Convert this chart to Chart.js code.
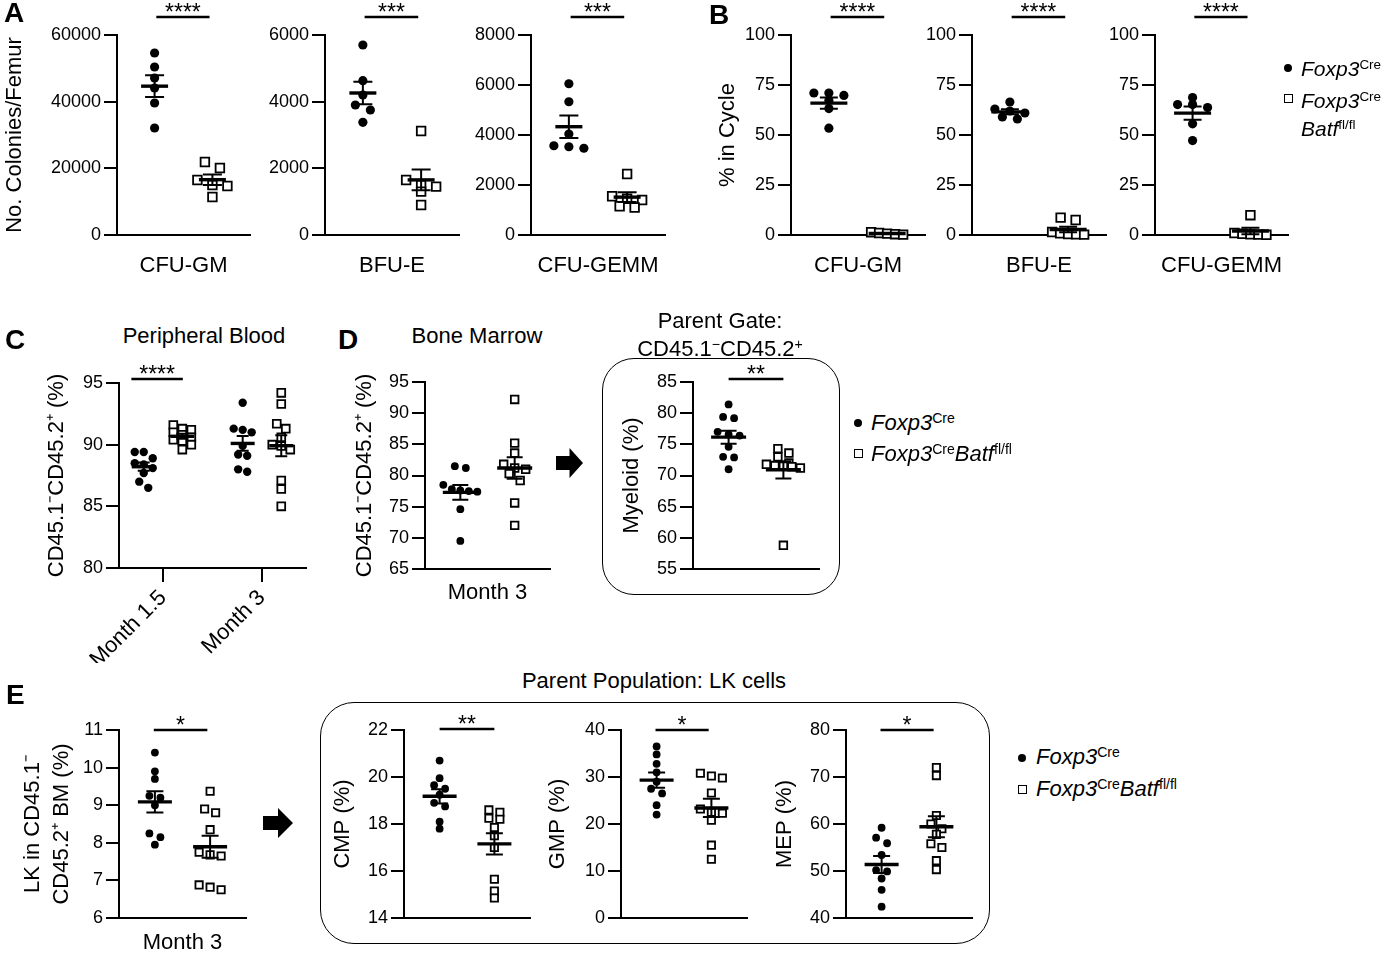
<!DOCTYPE html>
<html>
<head>
<meta charset="utf-8">
<script src="https://cdn.jsdelivr.net/npm/chart.js@4.4.0/dist/chart.umd.min.js"></script>
<style>
  body { margin: 0; background: #fff; }
  #fig { position: relative; width: 1388px; height: 956px; overflow: hidden; font-family: 'Liberation Sans', Arial, sans-serif; color: #000; }
  #fig canvas { position: absolute; }
  .lbl { position: absolute; white-space: nowrap; line-height: 1; z-index: 2; }
  .letter { position: absolute; font-weight: bold; font-size: 28px; line-height: 28px; z-index: 2; }
  sup { font-size: 0.64em; position: relative; top: -0.5em; vertical-align: baseline; line-height: 0; font-style: normal; }
  .box { position: absolute; border: 1.8px solid #000; box-sizing: border-box; z-index: 1; }
  .arrow { position: absolute; background: #000; z-index: 2;
    clip-path: polygon(0 27%, 50% 27%, 50% 0, 100% 50%, 50% 100%, 50% 73%, 0 73%); }
  .dot { position: absolute; width: 8px; height: 8px; margin: -4px 0 0 -4px; border-radius: 50%; background: #000; z-index: 2; }
  .sq { position: absolute; width: 9px; height: 9px; margin: -4.5px 0 0 -4.5px; border: 1.8px solid #000; box-sizing: border-box; background: #fff; z-index: 2; }
</style>
</head>
<body>
<div id="fig"></div>
<script>
// ---- categories / labels ----
var colonyTypes = ['CFU-GM', 'BFU-E', 'CFU-GEMM'];
var monthsPB = ['Month 1.5', 'Month 3'];
var sigA = ['****', '***', '***'];
var sigB = ['****', '****', '****'];

// ---- A: colonies per femur (Foxp3Cre = cre, Foxp3Cre Batf fl/fl = ko) ----
var colGM_cre = [54600, 50400, 47100, 44100, 39600, 32100];
var colGM_ko = [21900, 20100, 16500, 15000, 14700, 11400];
var colBE_cre = [5700, 4630, 4200, 3900, 3750, 3380];
var colBE_ko = [3120, 1650, 1500, 1450, 1300, 900];
var colGEMM_cre = [6050, 5330, 4040, 3570, 3530, 3470];
var colGEMM_ko = [2440, 1550, 1450, 1400, 1150, 1100];

// ---- B: % in cycle ----
var cycGM_cre = [71.0, 71.0, 69.8, 67.3, 63.2, 53.4];
var cycGM_ko = [1.4, 1.0, 0.7, 0.4, 0.2];
var cycBE_cre = [66.5, 63.0, 62.0, 61.0, 59.0, 58.0];
var cycBE_ko = [8.7, 7.5, 1.5, 0.8, 0.5, 0.3, 0.2];
var cycGEMM_cre = [68.7, 65.2, 65.2, 63.7, 55.6, 47.2];
var cycGEMM_ko = [9.9, 1.0, 0.6, 0.3, 0.2, 0.1];

// ---- C: peripheral blood chimerism ----
var pbM15_cre = [89.4, 89.4, 88.9, 88.5, 88.4, 88.1, 87.7, 87.0, 86.5];
var pbM15_ko = [91.6, 91.3, 91.2, 91.0, 90.8, 90.6, 90.4, 90.3, 90.0, 89.6];
var pbM3_cre = [93.4, 91.3, 91.2, 91.0, 89.9, 89.2, 89.1, 88.0, 87.8];
var pbM3_ko = [94.2, 93.3, 91.7, 91.3, 90.6, 90.0, 89.9, 89.6, 87.1, 86.4, 85.0];

// ---- D: bone marrow ----
var bmM3_cre = [81.5, 81.2, 78.5, 77.8, 77.6, 77.5, 77.4, 74.6, 69.5];
var bmM3_ko = [92.2, 85.2, 83.6, 81.8, 81.2, 81.0, 80.3, 79.2, 75.6, 72.0];
var myeloid_cre = [81.4, 79.4, 79.2, 77.0, 76.6, 76.4, 74.6, 73.0, 72.9, 71.0];
var myeloid_ko = [74.3, 73.6, 73.0, 72.0, 71.8, 71.6, 71.5, 71.4, 71.2, 58.8];

// ---- E: LK and progenitors ----
var lk_cre = [10.4, 9.9, 9.7, 9.25, 9.2, 9.0, 8.25, 8.15, 7.95];
var lk_ko = [9.37, 8.9, 8.8, 8.35, 7.75, 7.68, 7.65, 6.88, 6.82, 6.75];
var cmp_cre = [20.7, 19.95, 19.65, 19.5, 19.25, 18.9, 18.75, 18.1, 17.8];
var cmp_ko = [18.6, 18.5, 18.25, 18.2, 17.85, 17.5, 17.0, 15.65, 15.15, 14.85];
var gmp_cre = [36.5, 34.8, 32.8, 31.0, 29.0, 27.5, 26.5, 24.0, 22.0];
var gmp_ko = [30.8, 30.2, 29.8, 26.6, 23.2, 22.5, 22.3, 20.8, 15.5, 12.5];
var mep_cre = [59.2, 57.1, 55.9, 53.4, 50.2, 49.9, 48.4, 46.0, 42.4];
var mep_ko = [72.0, 70.3, 61.8, 60.0, 59.0, 57.8, 55.8, 55.0, 52.2, 50.3];

var FONT = "'Liberation Sans', Arial, Helvetica, sans-serif";
var TICK = 18, TITLE = 22;
Chart.defaults.font.family = FONT;
Chart.defaults.color = '#000';

var fig = document.getElementById('fig');

// spread points of a group sideways (prism-like rows)
function swarmX(values, center, yPx, xPx, st) {
    var order = values.map(function (v, i) { return i; }).sort(function (a, b) { return values[b] - values[a]; });
    var xs = [];
    var row = [];
    function flush() {
        var n = row.length;
        var step = n > 1 ? Math.min(st.step, st.maxW / (n - 1)) : 0;
        row.forEach(function (idx, k) { xs[idx] = center + (k - (n - 1) / 2) * step / xPx; });
        row = [];
    }
    order.forEach(function (idx) {
        if (row.length && (values[row[0]] - values[idx]) * yPx >= st.gap) flush();
        row.push(idx);
    });
    flush();
    return xs;
}

// mean +/- SEM and significance bar
var dotPlot = {
    id: 'dotPlot',
    afterDatasetsDraw: function (chart, args, o) {
        var ctx = chart.ctx, x = chart.scales.x, y = chart.scales.y;
        ctx.save();
        ctx.strokeStyle = '#000';
        ctx.fillStyle = '#000';
        chart.data.datasets.forEach(function (ds) {
            var v = ds.raw, n = v.length;
            var mean = v.reduce(function (a, b) { return a + b; }, 0) / n;
            var sd = Math.sqrt(v.reduce(function (a, b) { return a + (b - mean) * (b - mean); }, 0) / (n - 1));
            var sem = sd / Math.sqrt(n);
            var cx = x.getPixelForValue(ds.center);
            var my = y.getPixelForValue(mean), hi = y.getPixelForValue(mean + sem), lo = y.getPixelForValue(mean - sem);
            ctx.lineWidth = 2;
            ctx.beginPath();
            ctx.moveTo(cx, hi); ctx.lineTo(cx, lo);
            ctx.moveTo(cx - o.cap / 2, hi); ctx.lineTo(cx + o.cap / 2, hi);
            ctx.moveTo(cx - o.cap / 2, lo); ctx.lineTo(cx + o.cap / 2, lo);
            ctx.stroke();
            ctx.lineWidth = 3.4;
            ctx.beginPath();
            ctx.moveTo(cx - o.mean / 2, my); ctx.lineTo(cx + o.mean / 2, my);
            ctx.stroke();
        });
        if (o.sig) {
            var sy = chart.chartArea.top - o.sig[2];
            var x1 = x.getPixelForValue(o.sig[0]), x2 = x.getPixelForValue(o.sig[1]);
            ctx.lineWidth = 2.6;
            ctx.beginPath(); ctx.moveTo(x1, sy); ctx.lineTo(x2, sy); ctx.stroke();
            ctx.font = '23px ' + FONT;
            ctx.textAlign = 'center';
            ctx.textBaseline = 'alphabetic';
            ctx.fillText(o.sig[3], (x1 + x2) / 2, sy + 3);
        }
        ctx.restore();
    }
};

function makeChart(s) {
    var pl = s.plot[0], pt = s.plot[1], pr = s.plot[2], pb = s.plot[3];
    var lhMul = s.titleLH || 1.2;
    var lh = TITLE * lhMul;
    var left = s.yTitleX != null ? Math.round(s.yTitleX - lh / 2) : pl - 70;
    var top = pt - (s.padTop != null ? s.padTop : 24);
    var xH = s.xTitleY != null ? Math.round(s.xTitleY + lh / 2 - pb) : (s.xH || 16);
    var W = pr + 14 - left, H = pb - top + xH;
    var cv = document.createElement('canvas');
    cv.width = W; cv.height = H;
    cv.style.left = left + 'px'; cv.style.top = top + 'px';
    fig.appendChild(cv);

    var yMin = s.y[0], yMax = s.y[1], yStep = s.y[2];
    var xr = s.x || [-0.65, 1.65];
    var yPx = (pb - pt) / (yMax - yMin), xPx = (pr - pl) / (xr[1] - xr[0]);
    var st = s.style;
    var datasets = s.groups.map(function (g) {
        var xs = swarmX(g[1], g[0], yPx, xPx, st);
        var circ = g[2] === 'c';
        return {
            data: g[1].map(function (v, i) { return {x: xs[i], y: v}; }),
            raw: g[1],
            center: g[0],
            showLine: false,
            pointStyle: circ ? 'circle' : 'rect',
            pointRadius: circ ? st.r : st.side / Math.SQRT2,
            pointBackgroundColor: circ ? '#000' : '#fff',
            pointBorderColor: '#000',
            pointBorderWidth: circ ? 0 : 1.8,
            clip: false
        };
    });

    var titleFont = {size: TITLE, lineHeight: lhMul};
    var xTicked = !!s.xTicks;
    new Chart(cv, {
        type: 'scatter',
        data: {datasets: datasets},
        options: {
            responsive: false,
            animation: false,
            devicePixelRatio: 1,
            events: [],
            layout: {padding: {left: 0, top: pt - top, right: W - (pr - left), bottom: 0}},
            plugins: {
                legend: {display: false},
                tooltip: {enabled: false},
                dotPlot: {mean: st.mean, cap: st.cap, sig: s.sig}
            },
            scales: {
                x: {
                    type: 'linear', min: xr[0], max: xr[1],
                    ticks: xTicked ? {
                        autoSkip: false, minRotation: 45, maxRotation: 45, padding: 3,
                        font: {size: TITLE}, color: '#000',
                        callback: function (v) { return s.xTicks[v]; }
                    } : {display: false},
                    grid: xTicked ? {display: true, drawOnChartArea: false, drawTicks: true, tickLength: 14, color: '#000', lineWidth: 2} : {display: false},
                    border: {display: true, color: '#000', width: 2},
                    title: s.xTitle ? {display: true, text: s.xTitle, font: titleFont, color: '#000', padding: 0} : {display: false},
                    afterBuildTicks: xTicked ? function (sc) { sc.ticks = s.xTicks.map(function (t, i) { return {value: i}; }); } : undefined,
                    afterFit: function (sc) { sc.height = xH; }
                },
                y: {
                    type: 'linear', min: yMin, max: yMax,
                    ticks: {stepSize: yStep, font: {size: TICK}, color: '#000', padding: 3,
                        callback: function (v) { return String(v); }},
                    grid: {display: true, drawOnChartArea: false, drawTicks: true, tickLength: 13, color: '#000', lineWidth: 2},
                    border: {display: true, color: '#000', width: 2},
                    title: s.yTitle ? {display: true, text: s.yTitle, font: titleFont, color: '#000', padding: 0} : {display: false},
                    afterFit: function (sc) { sc.width = pl - left; }
                }
            }
        },
        plugins: [dotPlot]
    });
}

var styleA = {r: 4.6, side: 8.6, mean: 27, cap: 19, step: 15, maxW: 32, gap: 7};
var styleB = {r: 4.6, side: 8.6, mean: 37, cap: 18, step: 15, maxW: 32, gap: 7};
var styleC = {r: 4.2, side: 7.8, mean: 24, cap: 12, step: 9, maxW: 30, gap: 7};
var styleD = {r: 3.9, side: 7.6, mean: 35, cap: 16, step: 11, maxW: 34, gap: 7};
var styleE = {r: 3.9, side: 7.3, mean: 34, cap: 17, step: 11, maxW: 30, gap: 7};

// A
makeChart({plot: [117, 35, 250, 235], y: [0, 60000, 20000], yTitle: 'No. Colonies/Femur', yTitleX: 15,
    xTitle: colonyTypes[0], xTitleY: 266, padTop: 35, style: styleA,
    groups: [[0, colGM_cre, 'c'], [1, colGM_ko, 's']], sig: [0.03, 0.95, 18, sigA[0]]});
makeChart({plot: [325, 35, 459, 235], y: [0, 6000, 2000],
    xTitle: colonyTypes[1], xTitleY: 266, padTop: 35, style: styleA,
    groups: [[0, colBE_cre, 'c'], [1, colBE_ko, 's']], sig: [0.03, 0.95, 18, sigA[1]]});
makeChart({plot: [531, 35, 665, 235], y: [0, 8000, 2000],
    xTitle: colonyTypes[2], xTitleY: 266, padTop: 35, style: styleA,
    groups: [[0, colGEMM_cre, 'c'], [1, colGEMM_ko, 's']], sig: [0.03, 0.95, 18, sigA[2]]});
// B
makeChart({plot: [791, 35, 925, 235], y: [0, 100, 25], yTitle: '% in Cycle', yTitleX: 728,
    xTitle: colonyTypes[0], xTitleY: 266, padTop: 35, style: styleB,
    groups: [[0, cycGM_cre, 'c'], [1, cycGM_ko, 's']], sig: [0.03, 0.95, 18, sigB[0]]});
makeChart({plot: [972, 35, 1106, 235], y: [0, 100, 25],
    xTitle: colonyTypes[1], xTitleY: 266, padTop: 35, style: styleB,
    groups: [[0, cycBE_cre, 'c'], [1, cycBE_ko, 's']], sig: [0.03, 0.95, 18, sigB[1]]});
makeChart({plot: [1155, 35, 1288, 235], y: [0, 100, 25],
    xTitle: colonyTypes[2], xTitleY: 266, padTop: 35, style: styleB,
    groups: [[0, cycGEMM_cre, 'c'], [1, cycGEMM_ko, 's']], sig: [0.03, 0.95, 18, sigB[2]]});
// C
makeChart({plot: [119, 383, 306, 568], y: [80, 95, 5], yTitle: 'CD45.1\u207BCD45.2\u207A (%)', yTitleX: 57,
    x: [-0.445, 1.445], xTicks: monthsPB, xH: 95, style: styleC,
    groups: [[-0.195, pbM15_cre, 'c'], [0.195, pbM15_ko, 's'], [0.805, pbM3_cre, 'c'], [1.195, pbM3_ko, 's']],
    sig: [-0.32, 0.2, 4, '****']});
// D
makeChart({plot: [425, 382, 550, 569], y: [65, 95, 5], yTitle: 'CD45.1\u207BCD45.2\u207A (%)', yTitleX: 365,
    xTitle: 'Month 3', xTitleY: 593, style: styleD,
    groups: [[0, bmM3_cre, 'c'], [1, bmM3_ko, 's']]});
makeChart({plot: [693, 382, 819, 569], y: [55, 85, 5], yTitle: 'Myeloid (%)', yTitleX: 632,
    style: styleD, groups: [[0, myeloid_cre, 'c'], [1, myeloid_ko, 's']], sig: [0, 1, 3, '**']});
// E
makeChart({plot: [119, 730, 246, 918], y: [6, 11, 1], yTitle: ['LK in CD45.1\u207B', 'CD45.2\u207A BM (%)'], yTitleX: 33, titleLH: 1.32,
    xTitle: 'Month 3', xTitleY: 942, style: styleE,
    groups: [[0, lk_cre, 'c'], [1, lk_ko, 's']], sig: [-0.02, 0.95, 0, '*']});
makeChart({plot: [404, 730, 530, 918], y: [14, 22, 2], yTitle: 'CMP (%)', yTitleX: 343,
    style: styleE, groups: [[0, cmp_cre, 'c'], [1, cmp_ko, 's']], sig: [0, 1, 1, '**']});
makeChart({plot: [621, 730, 747, 918], y: [0, 40, 10], yTitle: 'GMP (%)', yTitleX: 558,
    style: styleE, groups: [[0, gmp_cre, 'c'], [1, gmp_ko, 's']], sig: [-0.02, 0.95, 0, '*']});
makeChart({plot: [846, 730, 972, 918], y: [40, 80, 10], yTitle: 'MEP (%)', yTitleX: 785,
    style: styleE, groups: [[0, mep_cre, 'c'], [1, mep_ko, 's']], sig: [-0.02, 0.95, 0, '*']});

// ---- text, boxes, arrows, legends ----
function label(html, x, y, size, align) {
    var d = document.createElement('div');
    d.className = 'lbl';
    d.innerHTML = html;
    d.style.fontSize = size + 'px';
    d.style.left = x + 'px';
    d.style.top = y + 'px';
    d.style.transform = align === 'left' ? 'translate(0,-50%)' : 'translate(-50%,-50%)';
    fig.appendChild(d);
}
function letter(t, x, y) {
    var d = document.createElement('div');
    d.className = 'letter'; d.textContent = t;
    d.style.left = x + 'px'; d.style.top = y + 'px';
    fig.appendChild(d);
}
function shape(cls, x, y, w, h, r) {
    var d = document.createElement('div');
    d.className = cls;
    d.style.left = x + 'px'; d.style.top = y + 'px';
    if (w) { d.style.width = w + 'px'; d.style.height = h + 'px'; }
    if (r) d.style.borderRadius = r + 'px';
    fig.appendChild(d);
}

letter('A', 4, -1);
letter('B', 709, 1);
letter('C', 5, 326);
letter('D', 338, 326);
letter('E', 6, 681);

label('Peripheral Blood', 204, 336, TITLE);
label('Bone Marrow', 477, 336, TITLE);
label('Parent Gate:', 720, 321, TITLE);
label('CD45.1<sup>\u2212</sup>CD45.2<sup>+</sup>', 720, 349, TITLE);
label('Parent Population: LK cells', 654, 681, TITLE);

shape('box', 602, 358, 238, 237, 32);
shape('box', 320, 702, 670, 242, 34);
shape('arrow', 556, 448, 27, 30);
shape('arrow', 263, 808, 30, 30);

// legend B
shape('dot', 1288, 68);
label('<i>Foxp3</i><sup>Cre</sup>', 1301, 68, 21, 'left');
shape('sq', 1288, 98);
label('<i>Foxp3</i><sup>Cre</sup>', 1301, 100, 21, 'left');
label('<i>Batf</i><sup>fl/fl</sup>', 1301, 128, 21, 'left');
// legend D
shape('dot', 858, 423);
label('<i>Foxp3</i><sup>Cre</sup>', 871, 423, 22, 'left');
shape('sq', 858, 453);
label('<i>Foxp3</i><sup>Cre</sup><i>Batf</i><sup>fl/fl</sup>', 871, 454, 22, 'left');
// legend E
shape('dot', 1022, 758);
label('<i>Foxp3</i><sup>Cre</sup>', 1036, 757, 22, 'left');
shape('sq', 1022, 789);
label('<i>Foxp3</i><sup>Cre</sup><i>Batf</i><sup>fl/fl</sup>', 1036, 789, 22, 'left');
</script>
</body>
</html>
